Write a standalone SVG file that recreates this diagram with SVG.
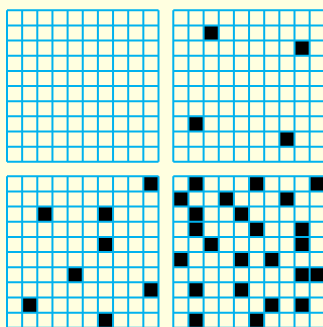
<svg xmlns="http://www.w3.org/2000/svg" xmlns:xlink="http://www.w3.org/1999/xlink" width="323" height="327" viewBox="0 0 323 327">
<style>
.ln{stroke:#00b2ee;stroke-width:2;fill:none}
.b{fill:#000}
</style>
<defs>
<g id="grid">
<path class="ln" d="M0,0V151.5M15.15,0V151.5M30.3,0V151.5M45.45,0V151.5M60.6,0V151.5M75.75,0V151.5M90.9,0V151.5M106.05,0V151.5M121.2,0V151.5M136.35,0V151.5M151.5,0V151.5M0,0H151.5M0,15.15H151.5M0,30.3H151.5M0,45.45H151.5M0,60.6H151.5M0,75.75H151.5M0,90.9H151.5M0,106.05H151.5M0,121.2H151.5M0,136.35H151.5M0,151.5H151.5"/>
</g>
<rect id="c" class="b" width="15.15" height="15.15"/>
</defs>
<rect width="323" height="327" fill="#ffffe0"/>
<g id="panel1" transform="translate(7,10.3)">
<use xlink:href="#grid"/>
</g>
<g id="panel2" transform="translate(173.3,10.3)">
<use xlink:href="#c" x="30.3" y="15.15"/>
<use xlink:href="#c" x="121.2" y="30.3"/>
<use xlink:href="#c" x="15.15" y="106.05"/>
<use xlink:href="#c" x="106.05" y="121.2"/>
<use xlink:href="#grid"/>
</g>
<g id="panel3" transform="translate(7,176.3)">
<use xlink:href="#c" x="136.35" y="0"/>
<use xlink:href="#c" x="30.3" y="30.3"/>
<use xlink:href="#c" x="90.9" y="30.3"/>
<use xlink:href="#c" x="90.9" y="60.6"/>
<use xlink:href="#c" x="60.6" y="90.9"/>
<use xlink:href="#c" x="136.35" y="106.05"/>
<use xlink:href="#c" x="15.15" y="121.2"/>
<use xlink:href="#c" x="90.9" y="136.35"/>
<use xlink:href="#grid"/>
</g>
<g id="panel4" transform="translate(173.3,176.3)">
<use xlink:href="#c" x="15.15" y="0"/>
<use xlink:href="#c" x="75.75" y="0"/>
<use xlink:href="#c" x="136.35" y="0"/>
<use xlink:href="#c" x="0" y="15.15"/>
<use xlink:href="#c" x="45.45" y="15.15"/>
<use xlink:href="#c" x="106.05" y="15.15"/>
<use xlink:href="#c" x="15.15" y="30.3"/>
<use xlink:href="#c" x="60.6" y="30.3"/>
<use xlink:href="#c" x="15.15" y="45.45"/>
<use xlink:href="#c" x="75.75" y="45.45"/>
<use xlink:href="#c" x="121.2" y="45.45"/>
<use xlink:href="#c" x="30.3" y="60.6"/>
<use xlink:href="#c" x="121.2" y="60.6"/>
<use xlink:href="#c" x="0" y="75.75"/>
<use xlink:href="#c" x="60.6" y="75.75"/>
<use xlink:href="#c" x="90.9" y="75.75"/>
<use xlink:href="#c" x="121.2" y="90.9"/>
<use xlink:href="#c" x="136.35" y="90.9"/>
<use xlink:href="#c" x="15.15" y="106.05"/>
<use xlink:href="#c" x="60.6" y="106.05"/>
<use xlink:href="#c" x="90.9" y="121.2"/>
<use xlink:href="#c" x="121.2" y="121.2"/>
<use xlink:href="#c" x="15.15" y="136.35"/>
<use xlink:href="#c" x="75.75" y="136.35"/>
<use xlink:href="#grid"/>
</g>
</svg>
